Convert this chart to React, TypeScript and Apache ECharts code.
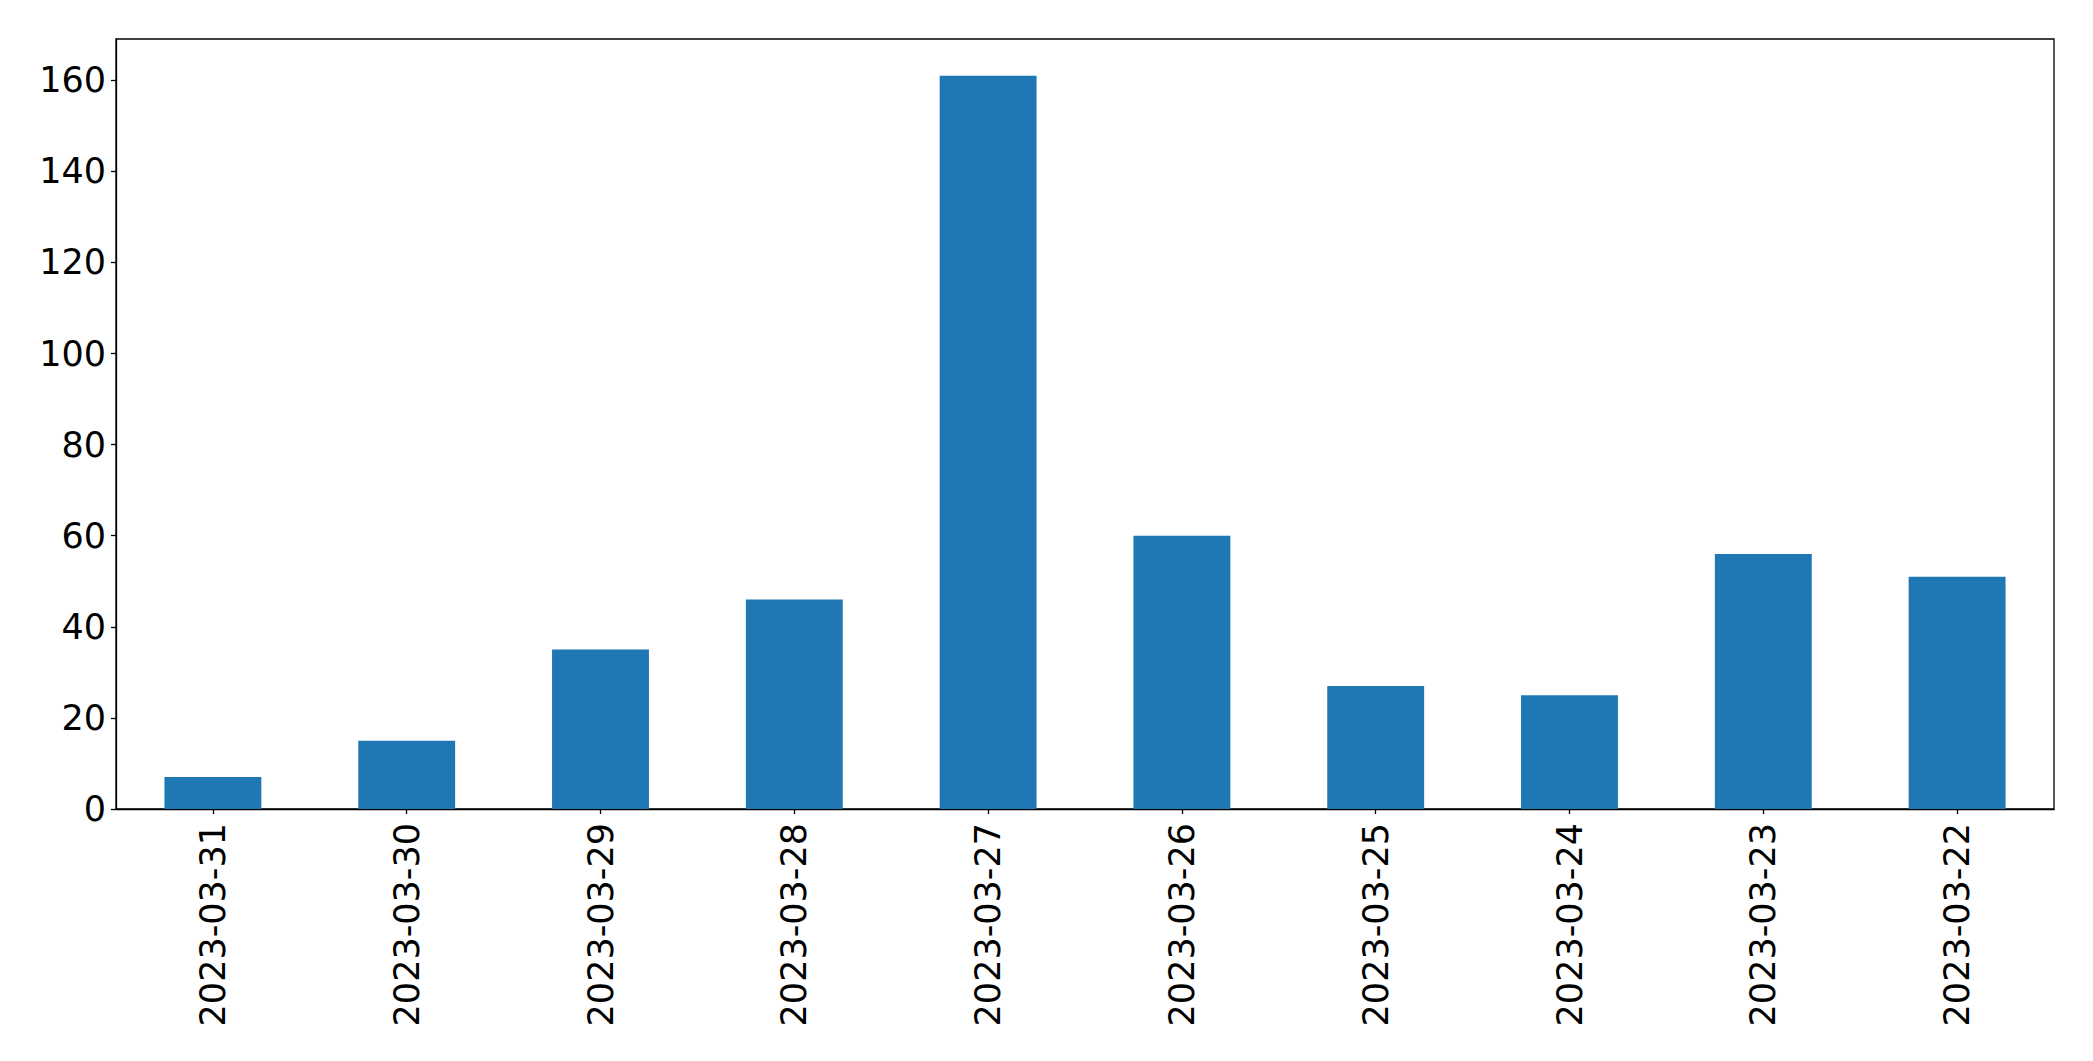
import React, { useEffect, useRef } from "react";
import * as echarts from "echarts";

const categories = [
  "2023-03-31",
  "2023-03-30",
  "2023-03-29",
  "2023-03-28",
  "2023-03-27",
  "2023-03-26",
  "2023-03-25",
  "2023-03-24",
  "2023-03-23",
  "2023-03-22",
];
const values = [7, 15, 35, 46, 161, 60, 27, 25, 56, 51];
const yMax = 169.05;
const yInterval = 20;

export default function App() {
  const ref = useRef<HTMLDivElement>(null);
  useEffect(() => {
    if (!ref.current) return;
    const chart = echarts.init(ref.current, null, { renderer: "svg" });
    const font = "DejaVu Sans";
    chart.setOption({
      animation: false,
      backgroundColor: "#ffffff",
      grid: {
        left: 116,
        top: 39,
        right: 39,
        bottom: 252,
        show: true,
        borderColor: "#000000",
        borderWidth: 1.3,
        backgroundColor: "transparent",
      },
      xAxis: {
        type: "category",
        data: categories,
        boundaryGap: true,
        axisLine: { show: true, lineStyle: { color: "#000000", width: 1.3 } },
        axisTick: {
          show: true,
          alignWithLabel: true,
          length: 5,
          lineStyle: { color: "#000000", width: 1.3 },
        },
        axisLabel: {
          rotate: 90,
          interval: 0,
          margin: 14,
          color: "#000000",
          fontFamily: font,
          fontSize: 35,
        },
        splitLine: { show: false },
      },
      yAxis: {
        type: "value",
        min: 0,
        max: yMax,
        interval: yInterval,
        axisLine: { show: true, lineStyle: { color: "#000000", width: 1.3 } },
        axisTick: {
          show: true,
          length: 5,
          lineStyle: { color: "#000000", width: 1.3 },
        },
        axisLabel: {
          showMaxLabel: false,
          margin: 10,
          color: "#000000",
          fontFamily: font,
          fontSize: 35,
          formatter: (v: number) => (Math.abs(v % yInterval) < 1e-9 ? String(v) : ""),
        },
        splitLine: { show: false },
      },
      series: [
        {
          type: "bar",
          data: values,
          barWidth: "50%",
          itemStyle: { color: "#1f77b4" },
        },
      ],
    });
    return () => chart.dispose();
  }, []);
  return (
    <div
      ref={ref}
      style={{ position: "fixed", left: 0, top: 0, width: 2093, height: 1061, background: "#fff" }}
    />
  );
}
